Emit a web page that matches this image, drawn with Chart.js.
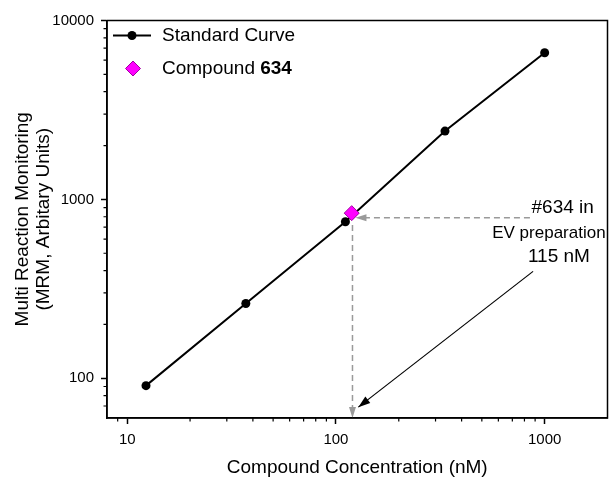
<!DOCTYPE html>
<html lang="en">
<head>
    <meta charset="UTF-8">
    <title>Standard Curve - Compound 634</title>
    <script src="https://cdn.jsdelivr.net/npm/chart.js"></script>
    <style>
        html, body { margin: 0; padding: 0; background: #fff; overflow: hidden; }
        #wrap { width: 610px; height: 478px; overflow: hidden; }
    </style>
</head>
<body>
    <!-- canvas a bit wider than the window: the point overflow padding would otherwise pull the frame in -->
    <div id="wrap"><canvas id="chart" width="616" height="478"></canvas></div>

    <script>
        // standard curve (nM vs MRM signal)
        const concentration = [12.3, 37, 111, 333, 1000];
        const mrmSignal = [91, 262, 750, 2410, 6600];

        // compound 634 measured in the EV preparation
        const compoundConc = [119];
        const compoundSignal = [838];

        const xTickValues = [10, 100, 1000];
        const yTickValues = [100, 1000, 10000];
        const xMinorTicks = [9, 20, 30, 40, 50, 60, 70, 80, 90, 200, 300, 400, 500, 600, 700, 800, 900];
        const yMinorTicks = [70, 80, 90, 200, 300, 400, 500, 600, 700, 800, 900, 2000, 3000, 4000, 5000, 6000, 7000, 8000, 9000];

        // guide lines (data units)
        const hGuideX = [850, 124];
        const hGuideY = 790;
        const vGuideX = 120;
        const vGuideY = [720, 60];
        const pointerFrom = [880, 396];
        const pointerTo = [128, 69];

        const FONT = "'Liberation Sans', Arial, sans-serif";

        function arrowHead(ctx, x1, y1, x2, y2, len, half, color) {
            const a = Math.atan2(y2 - y1, x2 - x1);
            ctx.save();
            ctx.setLineDash([]);
            ctx.fillStyle = color;
            ctx.beginPath();
            ctx.moveTo(x2, y2);
            ctx.lineTo(x2 - len * Math.cos(a) + half * Math.sin(a), y2 - len * Math.sin(a) - half * Math.cos(a));
            ctx.lineTo(x2 - len * Math.cos(a) - half * Math.sin(a), y2 - len * Math.sin(a) + half * Math.cos(a));
            ctx.closePath();
            ctx.fill();
            ctx.restore();
        }

        const guides = {
            id: 'guides',
            beforeDatasetsDraw(chart) {
                const { ctx, scales: { x, y } } = chart;
                ctx.save();
                ctx.strokeStyle = '#9a9a9a';
                ctx.lineWidth = 1.5;
                ctx.setLineDash([6, 4]);

                const hx1 = x.getPixelForValue(hGuideX[0]), hx2 = x.getPixelForValue(hGuideX[1]);
                const hy = y.getPixelForValue(hGuideY);
                ctx.beginPath();
                ctx.moveTo(hx1, hy);
                ctx.lineTo(hx2 + 8, hy);
                ctx.stroke();
                arrowHead(ctx, hx1, hy, hx2, hy, 11, 3.5, '#9a9a9a');

                const vx = x.getPixelForValue(vGuideX);
                const vy1 = y.getPixelForValue(vGuideY[0]), vy2 = y.getPixelForValue(vGuideY[1]);
                ctx.beginPath();
                ctx.moveTo(vx, vy1);
                ctx.lineTo(vx, vy2 - 8);
                ctx.stroke();
                arrowHead(ctx, vx, vy1, vx, vy2, 11, 3.5, '#9a9a9a');
                ctx.restore();
            },
            afterDatasetsDraw(chart) {
                const { ctx, scales: { x, y } } = chart;
                ctx.save();
                const px1 = x.getPixelForValue(pointerFrom[0]), py1 = y.getPixelForValue(pointerFrom[1]);
                const px2 = x.getPixelForValue(pointerTo[0]), py2 = y.getPixelForValue(pointerTo[1]);
                ctx.strokeStyle = '#000';
                ctx.lineWidth = 1.2;
                ctx.beginPath();
                ctx.moveTo(px1, py1);
                ctx.lineTo(px2, py2);
                ctx.stroke();
                arrowHead(ctx, px1, py1, px2, py2, 12, 4, '#000');

                // annotation text
                ctx.fillStyle = '#000';
                ctx.textAlign = 'center';
                ctx.textBaseline = 'middle';
                ctx.font = '19px ' + FONT;
                ctx.fillText('#634 in', x.getPixelForValue(1220), y.getPixelForValue(900));
                ctx.font = '17px ' + FONT;
                ctx.fillText('EV preparation', x.getPixelForValue(1048), y.getPixelForValue(650));
                ctx.font = '19px ' + FONT;
                ctx.fillText('115 nM', x.getPixelForValue(1170), y.getPixelForValue(478));
                ctx.restore();
            }
        };

        const frame = {
            id: 'frame',
            afterDraw(chart) {
                const { ctx, chartArea: a, scales: { x, y } } = chart;
                ctx.save();
                ctx.strokeStyle = '#000';
                ctx.lineWidth = 1.5;
                ctx.strokeRect(a.left, a.top, a.right - a.left, a.bottom - a.top);

                // minor ticks
                ctx.lineWidth = 1.2;
                ctx.beginPath();
                yMinorTicks.forEach(v => {
                    const py = y.getPixelForValue(v);
                    ctx.moveTo(a.left - 3.5, py);
                    ctx.lineTo(a.left, py);
                });
                xMinorTicks.forEach(v => {
                    const px = x.getPixelForValue(v);
                    ctx.moveTo(px, a.bottom);
                    ctx.lineTo(px, a.bottom + 3.5);
                });
                ctx.stroke();

                // legend inside the plot
                const lx = a.left + 6, ly1 = a.top + 15, ly2 = a.top + 48;
                ctx.lineWidth = 2;
                ctx.beginPath();
                ctx.moveTo(lx, ly1);
                ctx.lineTo(lx + 38, ly1);
                ctx.stroke();
                ctx.fillStyle = '#000';
                ctx.beginPath();
                ctx.arc(lx + 19, ly1, 4.5, 0, Math.PI * 2);
                ctx.fill();

                ctx.fillStyle = '#ff00ff';
                ctx.strokeStyle = '#a000a0';
                ctx.lineWidth = 1;
                ctx.beginPath();
                ctx.moveTo(lx + 20, ly2 - 7.5);
                ctx.lineTo(lx + 27.5, ly2);
                ctx.lineTo(lx + 20, ly2 + 7.5);
                ctx.lineTo(lx + 12.5, ly2);
                ctx.closePath();
                ctx.fill();
                ctx.stroke();

                ctx.fillStyle = '#000';
                ctx.textAlign = 'left';
                ctx.textBaseline = 'middle';
                ctx.font = '19px ' + FONT;
                ctx.fillText('Standard Curve', lx + 49, ly1);
                ctx.fillText('Compound ', lx + 49, ly2);
                const w = ctx.measureText('Compound ').width;
                ctx.font = 'bold 19px ' + FONT;
                ctx.fillText('634', lx + 49 + w, ly2);
                ctx.restore();
            }
        };

        new Chart(document.getElementById('chart'), {
            type: 'scatter',
            data: {
                datasets: [
                    {
                        label: 'Compound 634',
                        data: compoundConc.map((c, i) => ({ x: c, y: compoundSignal[i] })),
                        pointStyle: 'rectRot',
                        pointRadius: 7.5,
                        backgroundColor: '#ff00ff',
                        borderColor: '#a000a0',
                        borderWidth: 1
                    },
                    {
                        label: 'Standard Curve',
                        data: concentration.map((c, i) => ({ x: c, y: mrmSignal[i] })),
                        showLine: true,
                        borderColor: '#000',
                        borderWidth: 2,
                        pointRadius: 4.5,
                        backgroundColor: '#000',
                        pointBorderWidth: 0
                    }
                ]
            },
            options: {
                responsive: false,
                animation: false,
                layout: { padding: { top: 20.5, right: 3, left: 0, bottom: 0 } },
                plugins: { legend: { display: false }, tooltip: { enabled: false } },
                scales: {
                    x: {
                        type: 'logarithmic',
                        min: 8,
                        max: 2000,
                        afterBuildTicks: s => { s.ticks = xTickValues.map(v => ({ value: v })); },
                        afterFit: s => { s.height = 60; s.paddingLeft = 0; s.paddingRight = 0; },
                        ticks: {
                            color: '#000',
                            font: { family: FONT, size: 15 },
                            padding: 7,
                            maxRotation: 0,
                            callback: v => String(v)
                        },
                        grid: { drawOnChartArea: false, drawTicks: true, tickLength: 6, tickColor: '#000', tickWidth: 1.5 },
                        border: { display: true, color: '#000', width: 1.5 },
                        title: {
                            display: true,
                            text: 'Compound Concentration (nM)',
                            color: '#000',
                            font: { family: FONT, size: 19, lineHeight: 1.1 },
                            padding: { top: 0, bottom: 0 }
                        }
                    },
                    y: {
                        type: 'logarithmic',
                        min: 60,
                        max: 10000,
                        afterBuildTicks: s => { s.ticks = yTickValues.map(v => ({ value: v })); },
                        afterFit: s => { s.width = 107; s.paddingTop = 0; s.paddingBottom = 0; },
                        ticks: {
                            color: '#000',
                            font: { family: FONT, size: 15 },
                            padding: 7,
                            callback: v => String(v)
                        },
                        grid: { drawOnChartArea: false, drawTicks: true, tickLength: 6, tickColor: '#000', tickWidth: 1.5 },
                        border: { display: true, color: '#000', width: 1.5 },
                        title: {
                            display: true,
                            text: ['Multi Reaction Monitoring', '(MRM, Arbitary Units)'],
                            color: '#000',
                            font: { family: FONT, size: 19, lineHeight: 1.1 },
                            padding: { top: 12, bottom: 0 }
                        }
                    }
                }
            },
            plugins: [guides, frame]
        });
    </script>
</body>
</html>
